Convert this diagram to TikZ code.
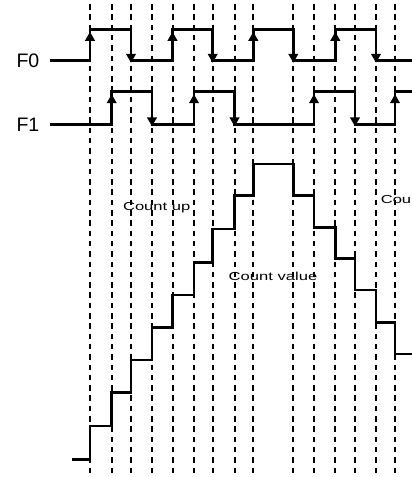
\documentclass[tikz,border=0pt]{standalone}
\usepackage{fontspec}
\setmainfont{Liberation Sans}
\usetikzlibrary{arrows.meta}

\tikzset{
  wave/.style={line width=2.8pt, line join=miter},
  edgearrow/.style={-{Triangle[length=9pt,width=9.5pt]}, line width=2.8pt},
  gridline/.style={line width=2pt, dash pattern=on 5.5pt off 4.8pt},
  siglabel/.style={font=\fontsize{19.5}{20}\selectfont, anchor=base east, inner sep=0pt},
  countlabel/.style={font=\fontsize{11.6}{12}\selectfont, xscale=1.43, inner sep=0pt},
}

\begin{document}
\begin{tikzpicture}[x=1pt, y=-1pt]
 \useasboundingbox (0,0) rectangle (412,477);

 % dashed time lines
 \foreach \t in {90,111.7,131,152,172.5,194,212.7,234.5,253.3,293.3,314,335.3,355,376,395}
   \draw[gridline] (\t,4) -- (\t,477);

 % signal names
 \node[siglabel] (f0) at (39.5,67.3) {F0};
 \node[siglabel] (f1) at (39.5,131) {F1};

 % F0
 \draw[wave] (50,60.7) -- (90,60.7) -- (90,29.3) -- (131,29.3) -- (131,60.7)
   -- (172.5,60.7) -- (172.5,29.3) -- (212.7,29.3) -- (212.7,60.7)
   -- (253.3,60.7) -- (253.3,29.3) -- (293.3,29.3) -- (293.3,60.7)
   -- (335.3,60.7) -- (335.3,29.3) -- (376,29.3) -- (376,60.7) -- (412,60.7);
 \foreach \t in {90,172.5,253.3,335.3}
   \draw[edgearrow] (\t,60.7) -- (\t,31.8);
 \foreach \t in {131,212.7,293.3,376}
   \draw[edgearrow] (\t,29.3) -- (\t,62.8);

 % F1
 \draw[wave] (50,124.3) -- (111.7,124.3) -- (111.7,91.7) -- (152,91.7) -- (152,124.3)
   -- (194,124.3) -- (194,91.7) -- (234.5,91.7) -- (234.5,124.3)
   -- (314,124.3) -- (314,91.7) -- (355,91.7) -- (355,124.3)
   -- (395,124.3) -- (395,91.7) -- (412,91.7);
 \foreach \t in {111.7,194,314,395}
   \draw[edgearrow] (\t,124.3) -- (\t,94.2);
 \foreach \t in {152,234.5,355}
   \draw[edgearrow] (\t,91.7) -- (\t,126.4);

 % count value staircase
 \draw[wave] (72,459.3) -- (90,459.3)
   -- (90,426) -- (111.7,426) -- (111.7,392.7) -- (131,392.7)
   -- (131,360) -- (152,360) -- (152,327.3) -- (172.5,327.3)
   -- (172.5,295) -- (194,295) -- (194,262.3) -- (212.7,262.3)
   -- (212.7,229) -- (234.5,229) -- (234.5,195.7) -- (253.3,195.7)
   -- (253.3,164) -- (293.3,164)
   -- (293.3,195.7) -- (314,195.7) -- (314,227.3) -- (335.3,227.3)
   -- (335.3,258.3) -- (355,258.3) -- (355,290) -- (376,290)
   -- (376,322.3) -- (395,322.3) -- (395,354) -- (412,354);

 % labels
 \node[countlabel, anchor=base] (up) at (156.7,210.8) {Count up};
 \node[countlabel, anchor=base] (value) at (273,280.7) {Count value};
 \node[countlabel, anchor=base west] (down) at (380.5,203.3) {Cou};

\end{tikzpicture}
\end{document}
